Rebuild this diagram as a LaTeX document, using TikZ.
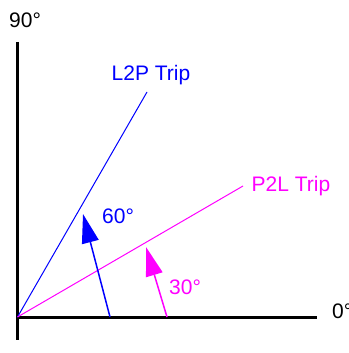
\documentclass[tikz,border=0pt]{standalone}
\usepackage{fontspec}
\setmainfont{Liberation Sans}
\usetikzlibrary{arrows.meta}
\definecolor{lblue}{RGB}{0,0,255}
\definecolor{lmag}{RGB}{255,0,255}
\tikzset{
  lbl/.style={inner sep=0pt, anchor=base west, font=\fontsize{21}{25}\selectfont},
  axis/.style={line width=3pt},
  trip/.style={line width=1pt},
  angarrow/.style={line width=1.5pt, -{Triangle[length=29pt,width=17pt]}}
}
\begin{document}
\begin{tikzpicture}[x=1pt,y=-1pt]
\useasboundingbox (0,0) rectangle (348,353);
\coordinate (O) at (17.5,317);
\coordinate (ytop) at (17.5,42);
\coordinate (ybot) at (17.5,340);
\coordinate (xend) at (317,317);
\coordinate (xstart) at (16,317);
\coordinate (Lend) at (147,92);
\coordinate (Pend) at (243,186);
\coordinate (b0) at (110,317);
\coordinate (b1) at (83,214);
\coordinate (m0) at (167,317);
\coordinate (m1) at (146,247);
\draw[axis] (ytop) -- (ybot);
\draw[axis] (xstart) -- (xend);
\draw[trip, lblue] (O) -- (Lend);
\draw[trip, lmag] (O) -- (Pend);
\draw[angarrow, lblue] (b0) -- (b1);
\draw[angarrow, lmag] (m0) -- (m1);
\node[lbl] (t90) at (9,27.5) {90°};
\node[lbl] (t0) at (332,318) {0°};
\node[lbl, lblue] (tL) at (111.5,80.5) {L2P Trip};
\node[lbl, lmag] (tP) at (251.5,191) {P2L Trip};
\node[lbl, lblue] (t60) at (102,223.5) {60°};
\node[lbl, lmag] (t30) at (169,294.5) {30°};
\end{tikzpicture}
\end{document}
